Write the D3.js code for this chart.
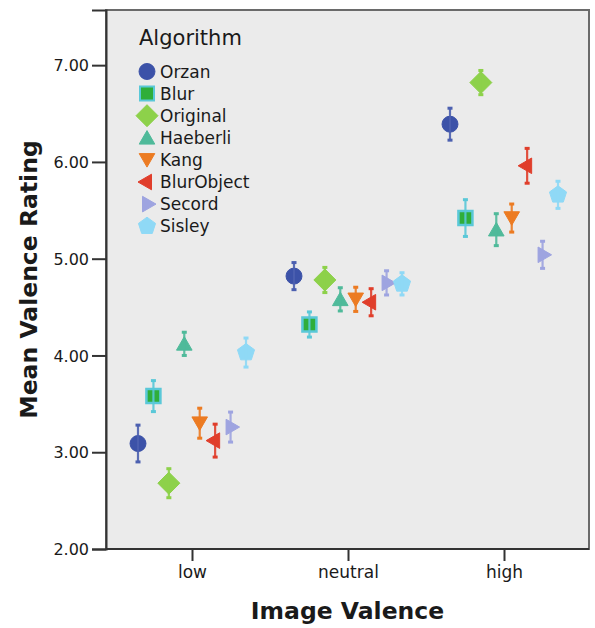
<!DOCTYPE html>
<html>
<head>
<meta charset="utf-8">
<script src="https://cdn.jsdelivr.net/npm/d3@7"></script>
<style>
  body { margin: 0; background: #fff; }
  svg text { font-family: "DejaVu Sans", sans-serif; fill: #1a1a1a; }
</style>
</head>
<body>
<div id="chart"></div>
<script>
// values
var algorithms = ["Orzan", "Blur", "Original", "Haeberli", "Kang", "BlurObject", "Secord", "Sisley"];
var valences = ["low", "neutral", "high"];
var meanLow = [3.09, 3.58, 2.68, 4.12, 3.30, 3.12, 3.26, 4.03];
var meanNeutral = [4.82, 4.32, 4.78, 4.58, 4.58, 4.55, 4.75, 4.74];
var meanHigh = [6.39, 5.42, 6.82, 5.30, 5.42, 5.96, 5.04, 5.66];
var errLow = [0.19, 0.16, 0.15, 0.12, 0.155, 0.17, 0.155, 0.15];
var errNeutral = [0.14, 0.13, 0.13, 0.12, 0.125, 0.14, 0.125, 0.115];
var errHigh = [0.165, 0.19, 0.125, 0.165, 0.145, 0.18, 0.14, 0.14];
var yTicks = [2, 3, 4, 5, 6, 7];

var colors = ["#3c52a8", "#2fae3a", "#8dd14a", "#4fba9a", "#ec7b22", "#e03e2b", "#9ea4e0", "#8fd9f6"];
var errColors = ["#4c60b0", "#5ac8d8", "#8dd14a", "#4fba9a", "#ec7b22", "#e03e2b", "#9ea4e0", "#8fd9f6"];

var width = 595, height = 628;
var plot = { left: 106, right: 589, top: 10, bottom: 549 };

var svg = d3.select("#chart").append("svg")
    .attr("width", width)
    .attr("height", height);

var x = d3.scalePoint().domain(valences).range([192, 504]);
var dodge = d3.scalePoint().domain(algorithms).range([-54, 54]);
var y = d3.scaleLinear().domain([2, 7.57]).range([plot.bottom, plot.top]);

// plot background
svg.append("rect")
    .attr("x", plot.left)
    .attr("y", plot.top)
    .attr("width", plot.right - plot.left)
    .attr("height", plot.bottom - plot.top)
    .attr("fill", "#ebebeb")
    .attr("stroke", "#6a6a6a")
    .attr("stroke-width", 2);

// marker shapes
function pentagon(r) {
    var pts = d3.range(5).map(function (i) {
        var a = -Math.PI / 2 + i * 2 * Math.PI / 5;
        return [r * Math.cos(a), r * Math.sin(a)];
    });
    return "M" + pts.join("L") + "Z";
}
function triangle(r, rot) {
    var pts = d3.range(3).map(function (i) {
        var a = rot + i * 2 * Math.PI / 3;
        return [r * Math.cos(a), r * Math.sin(a) + (rot === -Math.PI / 2 ? r * 0.2 : rot === Math.PI / 2 ? -r * 0.2 : 0)];
    });
    return "M" + pts.join("L") + "Z";
}
function shape(i) {
    switch (i) {
        case 0: return d3.symbol(d3.symbolCircle, 200)();
        case 1: return "M-7,-7L7,-7L7,7L-7,7Z";
        case 2: return "M0,-11L11,0L0,11L-11,0Z";
        case 3: return triangle(9, -Math.PI / 2);
        case 4: return triangle(9, Math.PI / 2);
        case 5: return triangle(9, Math.PI);
        case 6: return triangle(9, 0);
        case 7: return pentagon(9);
    }
}

var groups = [
    { v: "low", mean: meanLow, err: errLow },
    { v: "neutral", mean: meanNeutral, err: errNeutral },
    { v: "high", mean: meanHigh, err: errHigh }
];

var points = [];
groups.forEach(function (g) {
    algorithms.forEach(function (a, i) {
        points.push({ v: g.v, alg: a, i: i, mean: g.mean[i], err: g.err[i] });
    });
});

var pt = svg.append("g").selectAll("g")
    .data(points)
    .enter().append("g")
    .attr("transform", function (d) {
        return "translate(" + (x(d.v) + dodge(d.alg)) + ",0)";
    });

pt.append("path")
    .attr("transform", function (d) { return "translate(0," + y(d.mean) + ")"; })
    .attr("d", function (d) { return shape(d.i); })
    .attr("fill", function (d) { return colors[d.i]; })
    .attr("stroke", function (d) { return d.i === 1 ? "#5ac8d8" : colors[d.i]; })
    .attr("stroke-width", function (d) { return d.i === 1 ? 2.5 : 1; });

pt.append("line")
    .attr("y1", function (d) { return y(d.mean - d.err); })
    .attr("y2", function (d) { return y(d.mean + d.err); })
    .attr("stroke", function (d) { return errColors[d.i]; })
    .attr("stroke-width", 2.2)
    .attr("opacity", 0.9);

pt.selectAll("circle.cap")
    .data(function (d) {
        return [d.mean - d.err, d.mean + d.err].map(function (v) { return { v: v, i: d.i }; });
    })
    .enter().append("rect")
    .attr("x", -2.5)
    .attr("y", function (d) { return y(d.v) - 1.5; })
    .attr("width", 5)
    .attr("height", 3)
    .attr("fill", function (d) { return errColors[d.i]; });

// axes
var yAxis = d3.axisLeft(y).tickValues(yTicks).tickFormat(d3.format(".2f")).tickSize(14).tickPadding(3);
var gy = svg.append("g")
    .attr("transform", "translate(" + plot.left + ",0)")
    .call(yAxis);
gy.select(".domain").attr("stroke", "#333").attr("stroke-width", 2);
gy.selectAll(".tick line").attr("stroke", "#333").attr("stroke-width", 2);
gy.selectAll(".tick text").style("font-size", "16px").attr("dy", "0.36em");

var xAxis = d3.axisBottom(x).tickSize(12).tickPadding(5);
var gx = svg.append("g")
    .attr("transform", "translate(0," + plot.bottom + ")")
    .call(xAxis);
gx.select(".domain").attr("d", "M" + plot.left + ",0H" + plot.right)
    .attr("stroke", "#333").attr("stroke-width", 2);
gx.selectAll(".tick line").attr("stroke", "#333").attr("stroke-width", 2);
gx.selectAll(".tick text").style("font-size", "17px");

// axis titles
svg.append("text")
    .attr("x", (plot.left + plot.right) / 2)
    .attr("y", 619)
    .attr("text-anchor", "middle")
    .style("font-size", "23.5px")
    .style("font-weight", "bold")
    .text("Image Valence");

svg.append("text")
    .attr("transform", "translate(37," + (plot.top + plot.bottom) / 2 + ") rotate(-90)")
    .attr("text-anchor", "middle")
    .style("font-size", "23.5px")
    .style("font-weight", "bold")
    .text("Mean Valence Rating");

// legend
var legend = svg.append("g").attr("class", "legend");
legend.append("text")
    .attr("x", 139)
    .attr("y", 45)
    .style("font-size", "21px")
    .text("Algorithm");

var item = legend.selectAll("g.item")
    .data(algorithms)
    .enter().append("g")
    .attr("class", "item")
    .attr("transform", function (d, i) { return "translate(147," + (71.5 + i * 22.1) + ")"; });

item.append("path")
    .attr("d", function (d, i) { return shape(i); })
    .attr("fill", function (d, i) { return colors[i]; })
    .attr("stroke", function (d, i) { return i === 1 ? "#5ac8d8" : colors[i]; })
    .attr("stroke-width", function (d, i) { return i === 1 ? 2 : 1; });

item.append("text")
    .attr("x", 13)
    .attr("dy", "0.36em")
    .style("font-size", "17px")
    .text(function (d) { return d; });
</script>
</body>
</html>
